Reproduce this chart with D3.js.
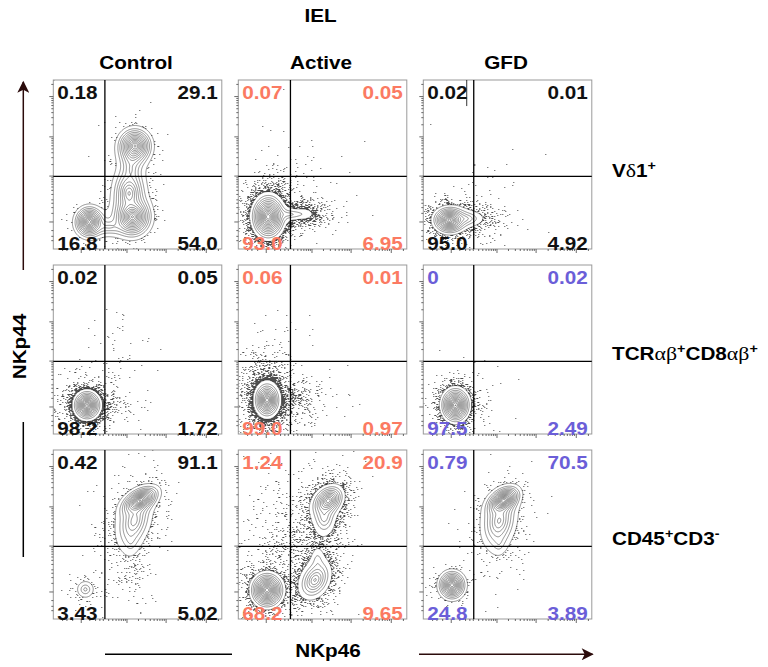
<!DOCTYPE html>
<html lang="en">
<head>
<meta charset="utf-8">
<title>IEL NKp46 / NKp44</title>
<style>
  body { margin: 0; background: #fff; }
  svg { display: block; font-family: "Liberation Sans", Arial, sans-serif; }
</style>
</head>
<body>
<div id="chart"></div>
<script src="https://d3js.org/d3.v7.min.js"></script>
<script>
// column and row headers
const conditions = ["Control", "Active", "GFD"];
const subsets = [
  [["V", "b"], ["δ", "g"], ["1", "b"], ["+", "sup"]],
  [["TCR", "b"], ["αβ", "g"], ["+", "sup"], ["CD8", "b"], ["αβ", "g"], ["+", "sup"]],
  [["CD45", "b"], ["+", "sup"], ["CD3", "b"], ["-", "sup"]]
];

// quadrant percentages: upper-left, upper-right, lower-left, lower-right
const pctVd1  = [["0.18", "29.1", "16.8", "54.0"], ["0.07", "0.05", "93.0", "6.95"], ["0.02", "0.01", "95.0", "4.92"]];
const pctTcr  = [["0.02", "0.05", "98.2", "1.72"], ["0.06", "0.01", "99.0", "0.97"], ["0", "0.02", "97.5", "2.49"]];
const pctCd45 = [["0.42", "91.1", "3.43", "5.02"], ["1.24", "20.9", "68.2", "9.65"], ["0.79", "70.5", "24.8", "3.89"]];

// quadrant gates
const gateNKp46 = [235, 245, 215];
const gateNKp44 = 950;

// axis ticks
const majorTicks = [0, 1e3, 1e4, 1e5];
const minorTicks = [-150, -100, -50, 50, 100, 150, 200, 300, 400, 500, 600, 700, 800, 900,
  2e3, 3e3, 4e3, 5e3, 6e3, 7e3, 8e3, 9e3, 2e4, 3e4, 4e4, 5e4, 6e4, 7e4, 8e4, 9e4, 2e5];

// populations: [NKp46, NKp44, spread NKp46 (decades), spread NKp44 (decades), correlation, peak]
const popsVd1Control = [
  [50, -2, 0.09, 0.097, 0, 60],
  [1440, 24, 0.113, 0.12, 0, 70],
  [1175, 316, 0.128, 0.195, 0, 20],
  [1300, 1440, 0.11, 0.2, 0, 4],
  [1680, 5770, 0.105, 0.11, 0, 55],
  [1440, 3540, 0.117, 0.16, 0, 6],
  [316, -29, 0.23, 0.11, 0, 4]
];
const popsVd1Active = [
  [12, 24, 0.093, 0.125, 0, 80],
  [240, 40, 0.25, 0.075, 0, 3],
  [700, 45, 0.16, 0.12, 0, 0.8],
  [24, 58, 0.2, 0.28, 0, 0.5],
  [150, 560, 0.36, 0.36, 0, 0.06]
];
const popsVd1Gfd = [
  [-6, 6, 0.097, 0.079, 0, 60],
  [104, 14, 0.23, 0.1, 0, 4],
  [34, 34, 0.26, 0.2, 0, 0.3],
  [400, 400, 0.34, 0.34, 0, 0.03]
];
const popsTcrControl = [
  [34, 6, 0.078, 0.085, 0, 60],
  [34, 6, 0.2, 0.2, 0, 0.9],
  [316, 6, 0.23, 0.14, 0, 0.2],
  [400, 1175, 0.34, 0.4, 0, 0.02]
];
const popsTcrActive = [
  [6, 34, 0.074, 0.1, 0, 50],
  [6, 58, 0.2, 0.3, 0, 1.2],
  [316, 34, 0.26, 0.2, 0, 0.3]
];
const popsTcrGfd = [
  [24, 6, 0.084, 0.102, 0, 70],
  [58, 34, 0.23, 0.23, 0, 0.2],
  [316, 34, 0.17, 0.2, 0, 0.1]
];
const popsCd45Control = [
  [2265, 13850, 0.108, 0.084, 0.5, 70],
  [1590, 4300, 0.165, 0.25, 0.3, 10],
  [1300, 1300, 0.11, 0.19, 0, 1.6],
  [24, 10, 0.115, 0.115, 0, 3.5],
  [1175, 104, 0.2, 0.34, 0, 0.5],
  [217, 3200, 0.26, 0.34, 0, 0.05]
];
const popsCd45Active = [
  [6, 6, 0.093, 0.1, 0, 80],
  [2735, 13850, 0.107, 0.107, 0.3, 30],
  [2155, 5240, 0.13, 0.21, 0, 5],
  [1237, 72, 0.14, 0.167, 0.3, 12],
  [1440, 400, 0.093, 0.185, 0, 1.8],
  [217, 1175, 0.4, 0.6, 0, 0.3]
];
const popsCd45Gfd = [
  [6, 34, 0.087, 0.093, 0, 50],
  [1530, 13850, 0.093, 0.082, 0.4, 80],
  [1175, 4300, 0.158, 0.24, 0.2, 12],
  [1175, 1175, 0.11, 0.185, 0, 1.6],
  [400, 400, 0.26, 0.4, 0, 0.1]
];

const panels = [
  { pct: pctVd1,  pops: [popsVd1Control, popsVd1Active, popsVd1Gfd] },
  { pct: pctTcr,  pops: [popsTcrControl, popsTcrActive, popsTcrGfd] },
  { pct: pctCd45, pops: [popsCd45Control, popsCd45Active, popsCd45Gfd] }
];

const black = "#111", salmon = "#fb7a62", purple = "#6b5ed8";
const textColor = [[black, salmon, black], [black, salmon, purple], [black, salmon, purple]];
const dotGain = [[0.08, 0.9, 0.5], [1.2, 1.3, 0.6], [0.18, 0.5, 0.12]];

const width = 768, height = 667;
const pw = 168.5, ph = 169, left0 = 53.3, top0 = 80, step = 185;
const stretch = "scale(1.15,1)";
const fs = 18;

const svg = d3.select("#chart").append("svg")
  .attr("width", width).attr("height", height);

const x = d3.scaleSymlog().constant(79).domain([-300, 250000]).range([0, pw]);
const y = d3.scaleSymlog().constant(79).domain([-300, 250000]).range([ph, 0]);
const decPx = x(1e5) - x(1e4);

const nx = Math.ceil(pw), ny = Math.ceil(ph);
// contour levels get closer together toward the peaks
const levels = d3.range(0, 24).map(k => Math.exp(0.7 * Math.pow(k, 0.7)));

function densityGrid(pops) {
  const comps = pops.map(([vx, vy, sdx, sdy, rho, h]) => ({
    cx: x(vx), cy: y(vy), sx: sdx * decPx, sy: sdy * decPx, rho, h
  }));
  const vals = new Float64Array(nx * ny);
  for (let j = 0; j < ny; j++) {
    for (let i = 0; i < nx; i++) {
      let d = 0;
      for (const c of comps) {
        const dx = (i + 0.5 - c.cx) / c.sx;
        const dy = -(j + 0.5 - c.cy) / c.sy;
        const q = (dx * dx - 2 * c.rho * dx * dy + dy * dy) / (1 - c.rho * c.rho);
        d += c.h * Math.exp(0.5 - Math.sqrt(q + 0.25));
      }
      vals[j * nx + i] = d;
    }
  }
  return vals;
}

// hash dither for the events below the lowest contour
function dither(i, j) {
  let h = (Math.imul(i, 374761393) + Math.imul(j, 668265263)) | 0;
  h = Math.imul(h ^ (h >>> 13), 1274126177);
  h ^= h >>> 16;
  return (h >>> 0) / 4294967296;
}

const path = d3.geoPath();

panels.forEach((row, r) => {
  conditions.forEach((cond, c) => {
    const g = svg.append("g")
      .attr("transform", `translate(${left0 + c * step},${top0 + r * step})`);
    const clipId = `clip-${r}-${c}`;
    g.append("clipPath").attr("id", clipId)
      .append("rect").attr("width", pw).attr("height", ph);

    const vals = densityGrid(row.pops[c]);
    const plot = g.append("g").attr("clip-path", `url(#${clipId})`);

    // outlier events
    let dots = "";
    const gain = dotGain[r][c];
    for (let j = 0; j < ny; j++) {
      for (let i = 0; i < nx; i++) {
        const d = vals[j * nx + i];
        if (d < 1 && dither(i + 211 * c, j + 307 * r) < d * gain) dots += `M${i},${j}h1v1h-1z`;
      }
    }
    plot.append("path").attr("d", dots).attr("fill", "#222").attr("opacity", 0.8);

    plot.selectAll("path.contour")
      .data(d3.contours().size([nx, ny]).thresholds(levels)(vals))
      .join("path")
      .attr("class", "contour")
      .attr("d", path)
      .attr("fill", "none")
      .attr("stroke", "#222")
      .attr("stroke-opacity", 0.8)
      .attr("stroke-width", 0.6);

    // frame
    g.append("rect").attr("width", pw).attr("height", ph)
      .attr("fill", "none").attr("stroke", "#9a9a9a").attr("stroke-width", 1);

    // axes ticks
    const tickStyle = a => a.call(s => s.select(".domain").remove())
      .call(s => s.selectAll("line").attr("stroke", "#444").attr("stroke-width", 0.8));
    g.append("g").call(d3.axisLeft(y).tickValues(majorTicks).tickSize(4).tickFormat("")).call(tickStyle);
    g.append("g").call(d3.axisLeft(y).tickValues(minorTicks).tickSize(2).tickFormat("")).call(tickStyle);
    g.append("g").attr("transform", `translate(0,${ph})`)
      .call(d3.axisBottom(x).tickValues(majorTicks).tickSize(4).tickFormat("")).call(tickStyle);
    g.append("g").attr("transform", `translate(0,${ph})`)
      .call(d3.axisBottom(x).tickValues(minorTicks).tickSize(2).tickFormat("")).call(tickStyle);

    // quadrant gates
    g.append("line").attr("x1", x(gateNKp46[c])).attr("x2", x(gateNKp46[c]))
      .attr("y1", 0).attr("y2", ph).attr("stroke", "#000").attr("stroke-width", 1.3);
    g.append("line").attr("x1", 0).attr("x2", pw)
      .attr("y1", y(gateNKp44)).attr("y2", y(gateNKp44)).attr("stroke", "#000").attr("stroke-width", 1.3);

    if (r === 0 && c === 2) {
      g.append("line").attr("x1", x(118)).attr("x2", x(118))
        .attr("y1", 0).attr("y2", y(56600)).attr("stroke", "#000").attr("stroke-width", 0.8);
    }

    // quadrant percentages
    const pos = [[4, 18.5, "start"], [pw - 4, 18.5, "end"], [4, ph + 1, "start"], [pw - 4, ph + 1, "end"]];
    row.pct[c].forEach((t, k) => {
      g.append("text")
        .attr("transform", `translate(${pos[k][0]},${pos[k][1]}) ${stretch}`)
        .attr("text-anchor", pos[k][2])
        .attr("font-size", fs).attr("font-weight", "bold")
        .attr("fill", textColor[r][c])
        .text(t);
    });
  });
});

// column headers
conditions.forEach((cond, c) => {
  svg.append("text")
    .attr("transform", `translate(${left0 + c * step + pw / 2 - 1.5},68.5) ${stretch}`)
    .attr("text-anchor", "middle").attr("font-size", fs).attr("font-weight", "bold")
    .text(cond);
});
svg.append("text")
  .attr("transform", `translate(320.5,21.5) ${stretch}`)
  .attr("text-anchor", "middle").attr("font-size", fs).attr("font-weight", "bold")
  .text("IEL");

// row labels
const rowBase = [177, 360, 545];
subsets.forEach((parts, r) => {
  const t = svg.append("text")
    .attr("transform", `translate(612,${rowBase[r]}) ${stretch}`)
    .attr("font-size", fs).attr("font-weight", "bold");
  let raised = false;
  parts.forEach(([s, kind]) => {
    const sp = t.append("tspan").text(s);
    if (kind === "sup") {
      sp.attr("font-size", 12.5).attr("dy", raised ? 0 : -7.5);
      raised = true;
    } else {
      sp.attr("dy", raised ? 7.5 : 0);
      raised = false;
      if (kind === "g") sp.attr("font-family", "'Liberation Serif', serif").attr("font-weight", "normal").attr("font-size", 19);
    }
  });
});

// axis titles and arrows
svg.append("defs").append("marker").attr("id", "head")
  .attr("viewBox", "0 0 10 10").attr("refX", 9).attr("refY", 5)
  .attr("markerWidth", 14).attr("markerHeight", 12).attr("markerUnits", "userSpaceOnUse")
  .attr("orient", "auto")
  .append("path").attr("d", "M0,0L10,5L0,10L2.5,5z").attr("fill", "#2b0b0b");

svg.append("line").attr("x1", 23.3).attr("x2", 23.3).attr("y1", 270).attr("y2", 82)
  .attr("stroke", "#2b0b0b").attr("stroke-width", 1.5).attr("marker-end", "url(#head)");
svg.append("line").attr("x1", 23.3).attr("x2", 23.3).attr("y1", 422).attr("y2", 557)
  .attr("stroke", "#000").attr("stroke-width", 1.5);
svg.append("line").attr("x1", 105).attr("x2", 232).attr("y1", 654.3).attr("y2", 654.3)
  .attr("stroke", "#000").attr("stroke-width", 1.5);
svg.append("line").attr("x1", 419).attr("x2", 592.5).attr("y1", 654.3).attr("y2", 654.3)
  .attr("stroke", "#2b0b0b").attr("stroke-width", 1.5).attr("marker-end", "url(#head)");

svg.append("text")
  .attr("transform", `translate(26,346.5) rotate(-90) ${stretch}`)
  .attr("text-anchor", "middle").attr("font-size", fs).attr("font-weight", "bold")
  .text("NKp44");
svg.append("text")
  .attr("transform", `translate(328,657) ${stretch}`)
  .attr("text-anchor", "middle").attr("font-size", fs).attr("font-weight", "bold")
  .text("NKp46");
</script>
</body>
</html>
